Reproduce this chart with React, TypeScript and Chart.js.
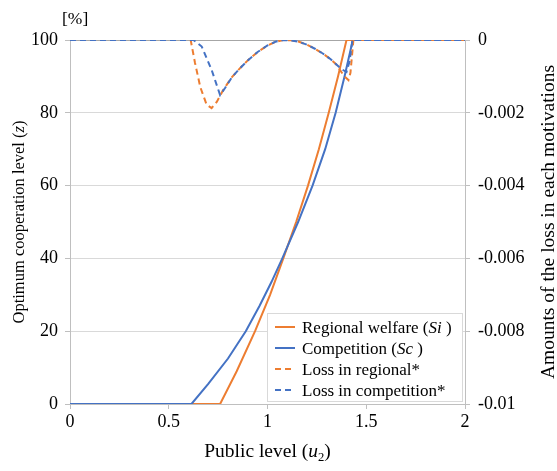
import { useEffect, useRef } from 'react';
import { Chart, registerables } from 'chart.js';

Chart.register(...registerables);

// Regional welfare (Si): optimum cooperation level [%] vs public level u2
const siU2 = [0, 0.76, 0.844, 0.937, 1.013, 1.08, 1.145, 1.205, 1.26, 1.31, 1.357, 1.40, 2];
const siZ = [0, 0, 9, 20, 30, 40, 50, 60, 70, 80, 90, 100, 100];

// Competition (Sc)
const scU2 = [0, 0.615, 0.7, 0.8, 0.89, 0.96, 1.02, 1.075, 1.155, 1.228, 1.292, 1.345, 1.39, 1.432, 2];
const scZ = [0, 0, 5.5, 12.5, 20, 27, 33.5, 40, 50, 60, 70, 80, 90, 100, 100];

// Loss in regional* (secondary axis)
const lossRegU2 = [0, 0.611, 0.633, 0.66, 0.692, 0.717, 0.743, 0.776, 0.82, 0.86, 0.9, 0.95, 1.0, 1.04, 1.08, 1.12, 1.16, 1.2, 1.24, 1.28, 1.32, 1.35, 1.37, 1.39, 1.41, 1.42, 1.435, 2];
const lossReg = [0, 0, -0.00063, -0.0013, -0.00178, -0.00187, -0.0017, -0.00137, -0.00102, -0.00078, -0.00056, -0.00033, -0.00015, -0.00005, 0, -0.00001, -0.00005, -0.00013, -0.00024, -0.00037, -0.00053, -0.00068, -0.00085, -0.001, -0.0011, -0.0009, 0, 0];

// Loss in competition*
const lossCompU2 = [0, 0.625, 0.667, 0.692, 0.717, 0.743, 0.76, 0.785, 0.82, 0.86, 0.9, 0.95, 1.0, 1.04, 1.08, 1.12, 1.16, 1.2, 1.24, 1.28, 1.32, 1.35, 1.375, 1.40, 1.415, 1.43, 2];
const lossComp = [0, 0, -0.00018, -0.0005, -0.00082, -0.00124, -0.00151, -0.00132, -0.00102, -0.00078, -0.00056, -0.00033, -0.00015, -0.00005, 0, -0.00001, -0.00005, -0.00013, -0.00024, -0.00037, -0.00053, -0.00068, -0.0008, -0.00088, -0.0006, 0, 0];

const xTicks = [0, 0.5, 1, 1.5, 2];

const ORANGE = '#ED7D31';
const BLUE = '#4472C4';
const SERIF = "'Liberation Serif', 'Times New Roman', serif";
const TICK_FAMILY = 'Liberation Serif';

Chart.defaults.font.family = TICK_FAMILY;
Chart.defaults.font.size = 18;
Chart.defaults.color = '#000';

const pairs = (xs: number[], ys: number[]) => xs.map((x, i) => ({ x, y: ys[i] }));

type Part = { t: string; italic?: boolean; sub?: boolean };

function partsWidth(ctx: CanvasRenderingContext2D, parts: Part[], size: number) {
  let w = 0;
  for (const p of parts) {
    const s = p.sub ? size * 0.65 : size;
    ctx.font = `${p.italic ? 'italic ' : ''}${s}px ${SERIF}`;
    w += ctx.measureText(p.t).width;
  }
  return w;
}

function drawParts(ctx: CanvasRenderingContext2D, parts: Part[], x: number, y: number, size: number, center: boolean) {
  let cx = center ? x - partsWidth(ctx, parts, size) / 2 : x;
  ctx.textAlign = 'left';
  ctx.textBaseline = 'alphabetic';
  ctx.fillStyle = '#000';
  for (const p of parts) {
    const s = p.sub ? size * 0.65 : size;
    ctx.font = `${p.italic ? 'italic ' : ''}${s}px ${SERIF}`;
    ctx.fillText(p.t, cx, p.sub ? y + size * 0.22 : y);
    cx += ctx.measureText(p.t).width;
  }
}

const legendItems: { color: string; dash: number[]; parts: Part[] }[] = [
  { color: ORANGE, dash: [], parts: [{ t: 'Regional welfare (' }, { t: 'Si', italic: true }, { t: ' )' }] },
  { color: BLUE, dash: [], parts: [{ t: 'Competition (' }, { t: 'Sc', italic: true }, { t: ' )' }] },
  { color: ORANGE, dash: [6, 4], parts: [{ t: 'Loss in regional*' }] },
  { color: BLUE, dash: [6, 4], parts: [{ t: 'Loss in competition*' }] },
];

const annotations = {
  id: 'annotations',
  afterDraw(chart: Chart) {
    const ctx = chart.ctx;
    const area = chart.chartArea;
    ctx.save();

    // unit label above the primary axis
    drawParts(ctx, [{ t: '[%]' }], 62, 24, 17.5, false);

    // x-axis title
    drawParts(ctx, [{ t: 'Public level (' }, { t: 'u', italic: true }, { t: '2', sub: true }, { t: ')' }],
      (area.left + area.right) / 2, 457, 19.5, true);

    // primary y-axis title
    ctx.save();
    ctx.translate(24, (area.top + area.bottom) / 2);
    ctx.rotate(-Math.PI / 2);
    drawParts(ctx, [{ t: 'Optimum cooperation level (' }, { t: 'z', italic: true }, { t: ')' }], 0, 0, 16.5, true);
    ctx.restore();

    // secondary y-axis title
    ctx.save();
    ctx.translate(554, (area.top + area.bottom) / 2);
    ctx.rotate(-Math.PI / 2);
    drawParts(ctx, [{ t: 'Amounts of the loss in each motivations' }], 0, 0, 19.5, true);
    ctx.restore();

    // legend
    const lx = 267, ly = 313, lw = 195, lh = 88, row = 21;
    ctx.fillStyle = '#fff';
    ctx.fillRect(lx, ly, lw, lh);
    ctx.strokeStyle = '#d9d9d9';
    ctx.lineWidth = 1;
    ctx.strokeRect(lx + 0.5, ly + 0.5, lw, lh);
    legendItems.forEach((it, i) => {
      const cy = ly + 14 + i * row;
      ctx.strokeStyle = it.color;
      ctx.lineWidth = 2;
      ctx.setLineDash(it.dash);
      ctx.beginPath();
      ctx.moveTo(lx + 8, cy);
      ctx.lineTo(lx + 28, cy);
      ctx.stroke();
      ctx.setLineDash([]);
      drawParts(ctx, it.parts, lx + 35, cy + 5.5, 17, false);
    });

    ctx.restore();
  },
};

export default function App() {
  const ref = useRef<HTMLCanvasElement | null>(null);

  useEffect(() => {
    document.body.style.margin = '0';
    if (!ref.current) return;
    const tickFont = () => ({ family: TICK_FAMILY, size: 18 });
    const chart = new Chart(ref.current, {
      type: 'line',
      data: {
        datasets: [
          {
            label: 'Loss in competition*',
            data: pairs(lossCompU2, lossComp),
            yAxisID: 'y2',
            borderColor: BLUE,
            borderWidth: 2,
            borderDash: [6, 4],
            order: 0,
          },
          {
            label: 'Loss in regional*',
            data: pairs(lossRegU2, lossReg),
            yAxisID: 'y2',
            borderColor: ORANGE,
            borderWidth: 2,
            borderDash: [6, 4],
            order: 1,
          },
          {
            label: 'Competition (Sc)',
            data: pairs(scU2, scZ),
            yAxisID: 'y',
            borderColor: BLUE,
            borderWidth: 2,
            order: 2,
          },
          {
            label: 'Regional welfare (Si)',
            data: pairs(siU2, siZ),
            yAxisID: 'y',
            borderColor: ORANGE,
            borderWidth: 2,
            order: 3,
          },
        ],
      },
      options: {
        animation: false,
        responsive: false,
        maintainAspectRatio: false,
        layout: { padding: { top: 40, left: 0, right: 0, bottom: 0 } },
        elements: { point: { radius: 0 }, line: { tension: 0, fill: false } },
        plugins: { legend: { display: false }, tooltip: { enabled: false } },
        scales: {
          x: {
            type: 'linear',
            min: 0,
            max: 2,
            afterFit: (s: any) => { s.height = 67; },
            afterBuildTicks: (s: any) => { s.ticks = xTicks.map((v) => ({ value: v })); },
            ticks: { font: tickFont(), color: '#000', padding: 2, maxRotation: 0, callback: (v: any) => String(v) },
            grid: { drawOnChartArea: false, drawTicks: true, tickLength: 5, tickColor: '#bfbfbf' },
            border: { color: '#bfbfbf', width: 1 },
          },
          y: {
            position: 'left',
            min: 0,
            max: 100,
            afterFit: (s: any) => { s.width = 70; },
            ticks: { stepSize: 20, font: tickFont(), color: '#000', padding: 7 },
            grid: {
              color: (c: any) => (c.tick && c.tick.value === 100 ? '#a6a6a6' : c.tick && c.tick.value === 0 ? '#bfbfbf' : '#d9d9d9'),
              tickColor: '#bfbfbf',
              tickLength: 5,
              lineWidth: 1,
            },
            border: { color: '#bfbfbf', width: 1 },
          },
          y2: {
            position: 'right',
            min: -0.01,
            max: 0,
            afterFit: (s: any) => { s.width = 92; },
            ticks: {
              stepSize: 0.002,
              font: tickFont(),
              color: '#000',
              padding: 8,
              callback: (v: any) => (Math.abs(v) < 1e-12 ? '0' : String(+Number(v).toFixed(3))),
            },
            grid: { drawOnChartArea: false, tickColor: '#bfbfbf', tickLength: 5 },
            border: { color: '#bfbfbf', width: 1 },
          },
        },
      },
      plugins: [annotations],
    });
    return () => chart.destroy();
  }, []);

  return (
    <div style={{ position: 'absolute', left: 0, top: 0, width: 557, height: 471, background: '#fff' }}>
      <canvas ref={ref} width={557} height={471} />
    </div>
  );
}
